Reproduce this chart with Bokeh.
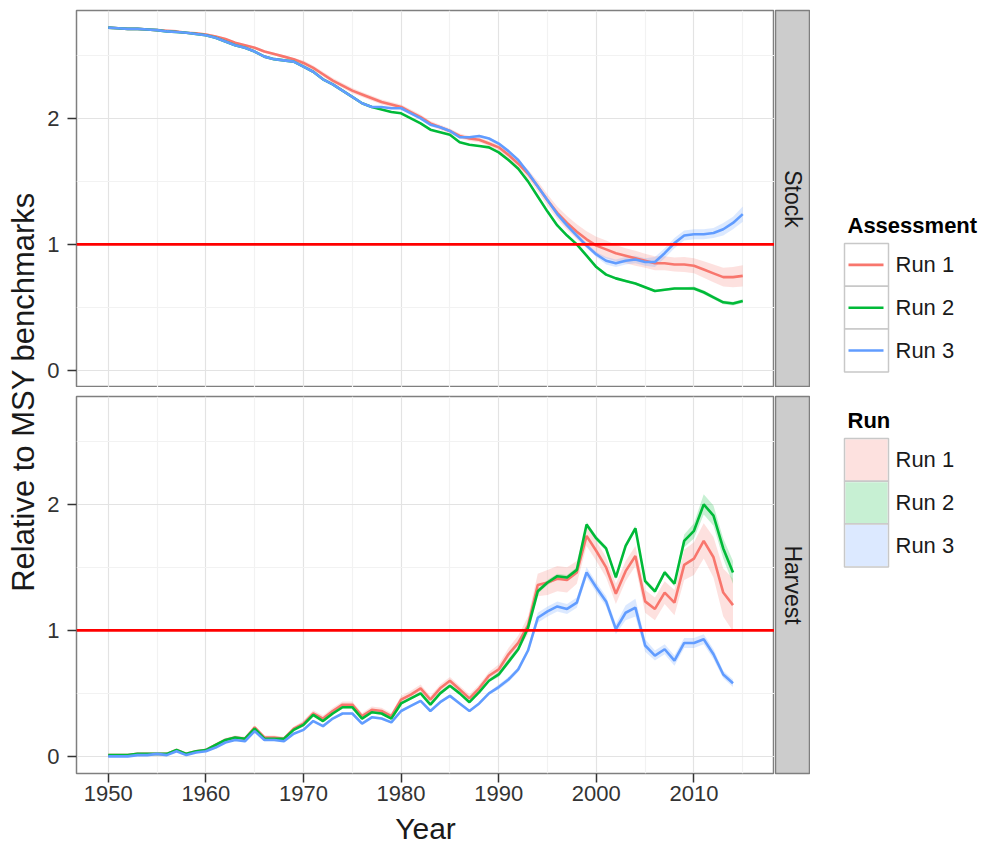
import numpy as np
from bokeh.plotting import figure
from bokeh.layouts import row, column
from bokeh.models import Range1d, FixedTicker, Span
from bokeh.core.properties import value
from bokeh.embed import file_html
from bokeh.resources import INLINE

# ---------------- data ----------------
runs = ["Run 1", "Run 2", "Run 3"]
run_colors = ["#F8766D", "#00BA38", "#619CFF"]
panel_names = ["Stock", "Harvest"]
x_ticks = [1950, 1960, 1970, 1980, 1990, 2000, 2010]
x_minor = [1955, 1965, 1975, 1985, 1995, 2005, 2015]
y_ticks = [0, 1, 2]
y_minor = [0.5, 1.5, 2.5]
msy_level = 1.0

stock_years = list(range(1950, 2016))
stock_run1 = [
    2.72, 2.715, 2.71, 2.71, 2.705, 2.70, 2.695, 2.69, 2.68, 2.675,
    2.665, 2.65, 2.63, 2.60, 2.58, 2.56, 2.53, 2.51, 2.49, 2.47,
    2.44, 2.40, 2.35, 2.30, 2.26, 2.22, 2.19, 2.16, 2.13, 2.11,
    2.09, 2.05, 2.01, 1.96, 1.93, 1.90, 1.86, 1.84, 1.83, 1.80,
    1.77, 1.71, 1.64, 1.56, 1.46, 1.35, 1.25, 1.17, 1.10, 1.04,
    0.99, 0.96, 0.93, 0.91, 0.89, 0.87, 0.85, 0.85, 0.84, 0.84,
    0.83, 0.80, 0.77, 0.74, 0.74, 0.75]
stock_run2 = [
    2.72, 2.715, 2.71, 2.71, 2.705, 2.70, 2.69, 2.685, 2.68, 2.67,
    2.66, 2.64, 2.61, 2.58, 2.56, 2.53, 2.49, 2.47, 2.46, 2.45,
    2.41, 2.37, 2.31, 2.27, 2.22, 2.17, 2.12, 2.09, 2.07, 2.05,
    2.04, 2.00, 1.96, 1.91, 1.89, 1.87, 1.81, 1.79, 1.78, 1.77,
    1.73, 1.67, 1.60, 1.50, 1.38, 1.26, 1.15, 1.07, 1.00, 0.91,
    0.82, 0.76, 0.73, 0.71, 0.69, 0.66, 0.63, 0.64, 0.65, 0.65,
    0.65, 0.62, 0.58, 0.54, 0.53, 0.55]
stock_run3 = [
    2.72, 2.715, 2.71, 2.71, 2.705, 2.70, 2.69, 2.685, 2.68, 2.67,
    2.66, 2.64, 2.61, 2.58, 2.56, 2.53, 2.49, 2.47, 2.46, 2.45,
    2.41, 2.37, 2.31, 2.27, 2.22, 2.17, 2.12, 2.09, 2.09, 2.08,
    2.08, 2.04, 2.00, 1.95, 1.93, 1.90, 1.85, 1.85, 1.86, 1.84,
    1.80, 1.74, 1.67, 1.57, 1.46, 1.35, 1.24, 1.15, 1.07, 0.99,
    0.92, 0.87, 0.85, 0.87, 0.88, 0.86, 0.86, 0.93, 1.01, 1.07,
    1.08, 1.08, 1.09, 1.12, 1.17, 1.24]
# half-widths of the uncertainty ribbons
stock_run1_hw = [
    0.005, 0.005, 0.005, 0.005, 0.005, 0.005, 0.005, 0.005, 0.005, 0.005,
    0.01, 0.01, 0.01, 0.01, 0.01, 0.01, 0.01, 0.01, 0.01, 0.01,
    0.02, 0.02, 0.02, 0.02, 0.02, 0.02, 0.02, 0.02, 0.02, 0.02,
    0.02, 0.02, 0.02, 0.02, 0.02, 0.02, 0.02, 0.02, 0.02, 0.02,
    0.025, 0.03, 0.03, 0.035, 0.04, 0.045, 0.05, 0.055, 0.06, 0.065,
    0.07, 0.07, 0.065, 0.06, 0.06, 0.055, 0.055, 0.055, 0.055, 0.06,
    0.06, 0.065, 0.07, 0.075, 0.08, 0.085]
stock_run2_hw = [
    0.005, 0.005, 0.005, 0.005, 0.005, 0.005, 0.005, 0.005, 0.005, 0.005,
    0.005, 0.005, 0.005, 0.005, 0.005, 0.005, 0.005, 0.005, 0.005, 0.005,
    0.005, 0.005, 0.005, 0.005, 0.005, 0.005, 0.005, 0.005, 0.005, 0.005,
    0.005, 0.005, 0.005, 0.005, 0.005, 0.005, 0.005, 0.005, 0.005, 0.005,
    0.01, 0.01, 0.01, 0.01, 0.01, 0.01, 0.01, 0.01, 0.01, 0.01,
    0.01, 0.01, 0.01, 0.01, 0.01, 0.01, 0.01, 0.01, 0.01, 0.01,
    0.015, 0.015, 0.015, 0.015, 0.015, 0.015]
stock_run3_hw = [
    0.005, 0.005, 0.005, 0.005, 0.005, 0.005, 0.005, 0.005, 0.005, 0.005,
    0.005, 0.005, 0.005, 0.005, 0.005, 0.005, 0.005, 0.005, 0.005, 0.005,
    0.005, 0.005, 0.005, 0.005, 0.005, 0.005, 0.005, 0.005, 0.005, 0.005,
    0.005, 0.005, 0.005, 0.005, 0.005, 0.01, 0.01, 0.01, 0.01, 0.01,
    0.01, 0.01, 0.01, 0.01, 0.01, 0.01, 0.02, 0.02, 0.02, 0.02,
    0.02, 0.03, 0.03, 0.03, 0.03, 0.03, 0.04, 0.04, 0.04, 0.04,
    0.04, 0.04, 0.04, 0.05, 0.05, 0.06]

harvest_years = list(range(1950, 2015))
harvest_run1 = [
    0.01, 0.01, 0.01, 0.02, 0.02, 0.02, 0.02, 0.05, 0.02, 0.04,
    0.05, 0.09, 0.13, 0.15, 0.14, 0.23, 0.15, 0.15, 0.14, 0.22,
    0.26, 0.34, 0.30, 0.36, 0.41, 0.41, 0.32, 0.37, 0.36, 0.32,
    0.45, 0.49, 0.54, 0.45, 0.54, 0.60, 0.53, 0.46, 0.54, 0.64,
    0.69, 0.81, 0.90, 1.04, 1.36, 1.38, 1.41, 1.40, 1.46, 1.75,
    1.63, 1.50, 1.29, 1.47, 1.59, 1.23, 1.17, 1.30, 1.22, 1.52,
    1.57, 1.71, 1.58, 1.30, 1.20]
harvest_run2 = [
    0.01, 0.01, 0.01, 0.02, 0.02, 0.02, 0.02, 0.05, 0.02, 0.04,
    0.05, 0.09, 0.13, 0.15, 0.14, 0.22, 0.14, 0.14, 0.14, 0.21,
    0.25, 0.33, 0.28, 0.34, 0.39, 0.39, 0.30, 0.35, 0.34, 0.30,
    0.42, 0.46, 0.50, 0.41, 0.50, 0.56, 0.50, 0.43, 0.51, 0.60,
    0.65, 0.75, 0.85, 1.02, 1.31, 1.38, 1.43, 1.42, 1.48, 1.84,
    1.73, 1.65, 1.42, 1.67, 1.81, 1.39, 1.31, 1.46, 1.37, 1.71,
    1.79, 2.00, 1.91, 1.65, 1.46]
harvest_run3 = [
    0.00, 0.00, 0.00, 0.01, 0.01, 0.02, 0.01, 0.04, 0.01, 0.03,
    0.04, 0.07, 0.11, 0.13, 0.12, 0.20, 0.13, 0.13, 0.12, 0.18,
    0.21, 0.28, 0.24, 0.30, 0.34, 0.34, 0.26, 0.31, 0.30, 0.27,
    0.36, 0.40, 0.44, 0.36, 0.43, 0.48, 0.42, 0.36, 0.42, 0.50,
    0.55, 0.61, 0.69, 0.84, 1.10, 1.15, 1.19, 1.17, 1.22, 1.46,
    1.34, 1.23, 1.01, 1.14, 1.18, 0.88, 0.80, 0.85, 0.76, 0.90,
    0.90, 0.93, 0.81, 0.65, 0.58]
harvest_run1_hw = [
    0.005, 0.005, 0.005, 0.005, 0.005, 0.005, 0.005, 0.005, 0.005, 0.005,
    0.015, 0.015, 0.015, 0.015, 0.015, 0.015, 0.015, 0.015, 0.015, 0.015,
    0.025, 0.025, 0.025, 0.025, 0.025, 0.025, 0.025, 0.025, 0.025, 0.025,
    0.03, 0.03, 0.03, 0.03, 0.03, 0.03, 0.03, 0.03, 0.03, 0.03,
    0.04, 0.05, 0.06, 0.07, 0.09, 0.10, 0.10, 0.10, 0.09, 0.08,
    0.08, 0.08, 0.08, 0.08, 0.08, 0.09, 0.09, 0.09, 0.10, 0.12,
    0.13, 0.14, 0.16, 0.19, 0.21]
harvest_run2_hw = [
    0.005, 0.005, 0.005, 0.005, 0.005, 0.005, 0.005, 0.005, 0.005, 0.005,
    0.005, 0.005, 0.005, 0.005, 0.005, 0.005, 0.005, 0.005, 0.005, 0.005,
    0.01, 0.01, 0.01, 0.01, 0.01, 0.01, 0.01, 0.01, 0.01, 0.01,
    0.01, 0.01, 0.01, 0.01, 0.01, 0.01, 0.01, 0.01, 0.01, 0.01,
    0.02, 0.02, 0.02, 0.02, 0.02, 0.02, 0.02, 0.02, 0.02, 0.02,
    0.02, 0.02, 0.02, 0.02, 0.02, 0.02, 0.02, 0.02, 0.02, 0.05,
    0.06, 0.08, 0.08, 0.08, 0.09]
harvest_run3_hw = [
    0.005, 0.005, 0.005, 0.005, 0.005, 0.005, 0.005, 0.005, 0.005, 0.005,
    0.005, 0.005, 0.005, 0.005, 0.005, 0.005, 0.005, 0.005, 0.005, 0.005,
    0.01, 0.01, 0.01, 0.01, 0.01, 0.01, 0.01, 0.01, 0.01, 0.01,
    0.01, 0.01, 0.01, 0.01, 0.01, 0.01, 0.01, 0.01, 0.01, 0.01,
    0.02, 0.02, 0.02, 0.02, 0.04, 0.04, 0.04, 0.04, 0.04, 0.04,
    0.04, 0.04, 0.04, 0.06, 0.07, 0.05, 0.04, 0.04, 0.04, 0.04,
    0.04, 0.04, 0.04, 0.03, 0.03]

# ---------------- styling / layout constants ----------------
FONT = "Liberation Sans"
TXT = "#1A1A1A"
TICK_TXT = "#333333"
BORDER = "#7F7F7F"
YLAB_W = 40          # column holding the y-axis title
AXIS_W = 36          # left border of each panel (ticks + tick labels)
FRAME_W, FRAME_H = 698, 377
STRIP_W = 35
LEGEND_W = 178
TOP_PAD, GAP, AXIS_H = 10, 9, 37
YEAR_H = 35
TOTAL_H = TOP_PAD + FRAME_H + GAP + FRAME_H + AXIS_H + YEAR_H

x_lo, x_hi = 1946.75, 2018.25
y_lo, y_hi = -0.136, 2.856


def make_panel(years, series, halfwidths, with_xaxis, top_border, bottom_border):
    p = figure(frame_width=FRAME_W, frame_height=FRAME_H,
               x_range=Range1d(x_lo, x_hi), y_range=Range1d(y_lo, y_hi),
               x_axis_location="below" if with_xaxis else None,
               toolbar_location=None, output_backend="svg",
               min_border_left=AXIS_W, min_border_right=0,
               min_border_top=top_border, min_border_bottom=bottom_border,
               background_fill_color="white", border_fill_color="white")
    p.outline_line_color = BORDER
    p.outline_line_width = 1.5
    xt = FixedTicker(ticks=x_ticks, minor_ticks=x_minor)
    yt = FixedTicker(ticks=y_ticks, minor_ticks=y_minor)
    p.xgrid.ticker = xt
    p.ygrid.ticker = yt
    for g in (p.xgrid, p.ygrid):
        g.grid_line_color = "#E3E3E3"
        g.grid_line_width = 1.2
        g.minor_grid_line_color = "#F2F2F2"
        g.minor_grid_line_width = 1.2
    p.yaxis.ticker = yt
    axes = [p.yaxis[0]]
    if with_xaxis:
        p.xaxis.ticker = xt
        axes.append(p.xaxis[0])
    for ax in axes:
        ax.axis_line_color = None
        ax.major_tick_out = 9
        ax.major_tick_in = 0
        ax.major_tick_line_color = TICK_TXT
        ax.major_tick_line_width = 1.5
        ax.minor_tick_line_color = None
        ax.major_label_text_font = FONT
        ax.major_label_text_font_size = "22px"
        ax.major_label_text_color = TICK_TXT
    p.yaxis.major_label_standoff = 8
    if with_xaxis:
        p.xaxis.major_label_standoff = 3

    for vals, hw, col in zip(series, halfwidths, run_colors):
        lo = [v - h for v, h in zip(vals, hw)]
        hi = [v + h for v, h in zip(vals, hw)]
        p.varea(x=years, y1=lo, y2=hi, fill_color=col, fill_alpha=0.22)
    for vals, col in zip(series, run_colors):
        p.line(x=years, y=vals, line_color=col, line_width=2.6)
    p.add_layout(Span(location=msy_level, dimension="width",
                      line_color="#FF0000", line_width=2.8))
    return p


def make_strip(label, top_border, bottom_border):
    s = figure(frame_width=STRIP_W, frame_height=FRAME_H,
               x_range=Range1d(0, 1), y_range=Range1d(0, 1),
               x_axis_location=None, y_axis_location=None,
               toolbar_location=None, output_backend="svg",
               min_border_left=1, min_border_right=0,
               min_border_top=top_border, min_border_bottom=bottom_border,
               background_fill_color="#CCCCCC", border_fill_color="white")
    s.outline_line_color = BORDER
    s.outline_line_width = 1.5
    s.grid.visible = False
    s.text(x=[0.5], y=[0.5], text=[label], angle=-np.pi / 2,
           text_align="center", text_baseline="middle",
           text_font=value(FONT), text_font_size=value("23px"),
           text_color=TXT)
    return s


top = make_panel(stock_years, [stock_run1, stock_run2, stock_run3],
                 [stock_run1_hw, stock_run2_hw, stock_run3_hw],
                 False, TOP_PAD, 0)
bottom = make_panel(harvest_years, [harvest_run1, harvest_run2, harvest_run3],
                    [harvest_run1_hw, harvest_run2_hw, harvest_run3_hw],
                    True, GAP, AXIS_H)
strip_top = make_strip(panel_names[0], TOP_PAD, 0)
strip_bottom = make_strip(panel_names[1], GAP, AXIS_H)


def blank_fig(w, h):
    f = figure(frame_width=w, frame_height=h,
               x_range=Range1d(0, w), y_range=Range1d(h, 0),
               x_axis_location=None, y_axis_location=None,
               toolbar_location=None, output_backend="svg",
               min_border=0, background_fill_color="white",
               border_fill_color="white")
    f.outline_line_color = None
    f.grid.visible = False
    return f


# y-axis title (centred on the two panels)
ylab = blank_fig(YLAB_W, TOTAL_H)
ylab.text(x=[22.5], y=[TOP_PAD + (FRAME_H * 2 + GAP) / 2],
          text=["Relative to MSY benchmarks"], angle=np.pi / 2,
          text_align="center", text_baseline="middle",
          text_font=value(FONT), text_font_size=value("31px"), text_color=TXT)

# x-axis title (centred on the panel)
mid_w = AXIS_W + FRAME_W + 1 + STRIP_W
yearfig = blank_fig(mid_w, YEAR_H)
yearfig.text(x=[AXIS_W + FRAME_W / 2], y=[YEAR_H / 2], text=["Year"],
             text_align="center", text_baseline="middle",
             text_font=value(FONT), text_font_size=value("30px"), text_color=TXT)

# legends (drawn into their own column)
leg = blank_fig(LEGEND_W, TOTAL_H)
KEY_X0, KEY_W, KEY_H = 34, 44, 42.8
LABEL_X = 85


def draw_legend(title, title_y, key_top, kind):
    leg.text(x=[KEY_X0 + 3], y=[title_y], text=[title],
             text_align="left", text_baseline="middle",
             text_font=value(FONT), text_font_size=value("22px"),
             text_font_style="bold", text_color="black")
    tops = [key_top + i * KEY_H for i in range(len(runs))]
    bots = [t + KEY_H for t in tops]
    mids = [t + KEY_H / 2 for t in tops]
    leg.quad(left=KEY_X0, right=KEY_X0 + KEY_W, top=tops, bottom=bots,
             fill_color="white", line_color="#C8C8C8", line_width=1.5)
    if kind == "line":
        leg.segment(x0=KEY_X0 + 4, x1=KEY_X0 + KEY_W - 5, y0=mids, y1=mids,
                    line_color=run_colors, line_width=2.6)
    else:
        leg.quad(left=KEY_X0 + 1, right=KEY_X0 + KEY_W - 1,
                 top=[t + 1 for t in tops], bottom=[b - 1 for b in bots],
                 fill_color=run_colors, fill_alpha=0.22, line_color=None)
    leg.text(x=LABEL_X, y=mids, text=runs, text_align="left",
             text_baseline="middle", text_font=value(FONT),
             text_font_size=value("22px"), text_color=TXT)


draw_legend("Assessment", 225, 243, "line")
draw_legend("Run", 420, 438, "fill")

layout = row(ylab,
             column(row(top, strip_top), row(bottom, strip_bottom), yearfig),
             leg)

open("out.html", "w").write(file_html(layout, INLINE))
